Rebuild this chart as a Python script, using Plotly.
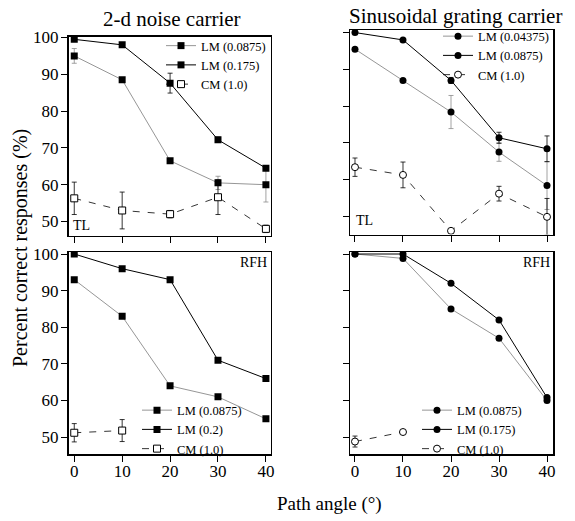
import plotly.graph_objects as go

W, H = 575, 521
FONT = "Liberation Serif"

angles = [0, 10, 20, 30, 40]
angles_cm_rfh = [0, 10]

# 2-d noise carrier, observer TL
noise_tl_lm_low = [95, 88.5, 66.5, 60.5, 60]
noise_tl_lm_low_err = [2, 0, 0, 1.8, 4.7]
noise_tl_lm_high = [99.5, 98, 87.6, 72.2, 64.5]
noise_tl_lm_high_err = [0, 0.5, 2.7, 0.7, 0]
noise_tl_cm = [56.3, 53, 52, 56.6, 48]
noise_tl_cm_err = [4.4, 5, 1, 4.7, 1]

# Sinusoidal grating carrier, observer TL
sin_tl_lm_low = [95.5, 87, 78.4, 67.5, 58.4]
sin_tl_lm_low_err = [0, 0, 4.5, 2.5, 6.5]
sin_tl_lm_high = [100, 98, 87, 71.4, 68.4]
sin_tl_lm_high_err = [0, 0, 0.8, 1.5, 3.5]
sin_tl_cm = [63.4, 61.3, 46.1, 56.2, 49.9]
sin_tl_cm_err = [2.5, 3.5, 0, 2, 5]

# 2-d noise carrier, observer RFH
noise_rfh_lm_low = [93, 83, 64, 61, 55]
noise_rfh_lm_high = [100, 96, 93, 71, 66]
noise_rfh_cm = [51.2, 51.8]
noise_rfh_cm_err = [2.5, 3]

# Sinusoidal grating carrier, observer RFH
sin_rfh_lm_low = [100, 98.8, 85, 77, 60]
sin_rfh_lm_high = [100, 100, 92, 82, 60.8]
sin_rfh_cm = [48.8, 51.4]
sin_rfh_cm_err = [1.5, 0]

names_noise_tl = ["LM (0.0875)", "LM (0.175)", "CM (1.0)"]
names_sin_tl = ["LM (0.04375)", "LM (0.0875)", "CM (1.0)"]
names_noise_rfh = ["LM (0.0875)", "LM (0.2)", "CM (1.0)"]
names_sin_rfh = ["LM (0.0875)", "LM (0.175)", "CM (1.0)"]

xticks = [0, 10, 20, 30, 40]
yticks = [50, 60, 70, 80, 90, 100]

GRAY = "#8a8a8a"
BLACK = "#000000"


def px_x(p):
    return p / W


def px_y(p):
    return 1 - p / H


fig = go.Figure()


def add_panel(ax, xs, low, high, cm, xs_cm, sym, names, legend,
              low_err=None, high_err=None, cm_err=None):
    xa, ya = ("x" + ax, "y" + ax) if ax != "1" else ("x", "y")

    def eb(err, color):
        if err is None:
            return None
        return dict(type="data", array=err, visible=True, color=color,
                    thickness=0.8, width=2.5)

    fig.add_trace(go.Scatter(
        x=xs, y=low, name=names[0], mode="lines+markers",
        line=dict(color=GRAY, width=0.9),
        marker=dict(symbol=sym, size=7, color=BLACK),
        error_y=eb(low_err, GRAY), xaxis=xa, yaxis=ya, legend=legend))
    fig.add_trace(go.Scatter(
        x=xs, y=high, name=names[1], mode="lines+markers",
        line=dict(color=BLACK, width=1),
        marker=dict(symbol=sym, size=7, color=BLACK),
        error_y=eb(high_err, BLACK), xaxis=xa, yaxis=ya, legend=legend))
    fig.add_trace(go.Scatter(
        x=xs_cm, y=cm, name=names[2], mode="lines+markers",
        line=dict(color=BLACK, width=0.8, dash="7px,8px"),
        marker=dict(symbol=sym, size=7, color="white",
                    line=dict(color=BLACK, width=1)),
        error_y=eb(cm_err, BLACK), xaxis=xa, yaxis=ya, legend=legend))


add_panel("1", angles, noise_tl_lm_low, noise_tl_lm_high, noise_tl_cm, angles,
          "square", names_noise_tl, "legend",
          noise_tl_lm_low_err, noise_tl_lm_high_err, noise_tl_cm_err)
add_panel("2", angles, sin_tl_lm_low, sin_tl_lm_high, sin_tl_cm, angles,
          "circle", names_sin_tl, "legend2",
          sin_tl_lm_low_err, sin_tl_lm_high_err, sin_tl_cm_err)
add_panel("3", angles, noise_rfh_lm_low, noise_rfh_lm_high, noise_rfh_cm,
          angles_cm_rfh, "square", names_noise_rfh, "legend3",
          None, None, noise_rfh_cm_err)
add_panel("4", angles, sin_rfh_lm_low, sin_rfh_lm_high, sin_rfh_cm,
          angles_cm_rfh, "circle", names_sin_rfh, "legend4",
          None, None, sin_rfh_cm_err)

panels = {
    "1": dict(xd=(68.5, 270.7), yd=(36.5, 235.5), xr=(-1.2, 41.0), yr=(46.2, 100.27), labels=False),
    "2": dict(xd=(350, 553), yd=(30, 234.5), xr=(-1.04, 41.25), yr=(45.1, 100.7), labels=False),
    "3": dict(xd=(68.5, 270.7), yd=(252, 454), xr=(-1.2, 41.0), yr=(45.4, 100.55), labels=True),
    "4": dict(xd=(350, 553), yd=(252, 454), xr=(-1.04, 41.25), yr=(45.4, 100.55), labels=True),
}

axis_common = dict(showline=True, linecolor=BLACK, linewidth=1.5, mirror=True,
                   ticks="outside", ticklen=6, tickwidth=1, tickcolor=BLACK,
                   showgrid=False, zeroline=False, automargin=False,
                   tickfont=dict(family=FONT, size=17, color=BLACK))

layout_axes = {}
for k, p in panels.items():
    xname = "xaxis" if k == "1" else "xaxis" + k
    yname = "yaxis" if k == "1" else "yaxis" + k
    xid = "x" if k == "1" else "x" + k
    yid = "y" if k == "1" else "y" + k
    layout_axes[xname] = dict(
        domain=[px_x(p["xd"][0]), px_x(p["xd"][1])], range=list(p["xr"]),
        anchor=yid, tickvals=xticks, ticktext=[str(v) for v in xticks],
        showticklabels=p["labels"], ticklabelstandoff=-5, **axis_common)
    layout_axes[yname] = dict(
        domain=[px_y(p["yd"][1]), px_y(p["yd"][0])], range=list(p["yr"]),
        anchor=xid, tickvals=yticks, ticktext=[str(v) for v in yticks],
        showticklabels=k in ("1", "3"), ticklabelstandoff=-1, **axis_common)

leg_common = dict(bgcolor="rgba(0,0,0,0)", borderwidth=0,
                  font=dict(family=FONT, size=12.5, color=BLACK),
                  tracegroupgap=0, itemclick=False, itemdoubleclick=False)

fig.update_layout(
    template="none",
    width=W, height=H, autosize=False,
    margin=dict(l=0, r=0, t=0, b=0, pad=0),
    paper_bgcolor="white", plot_bgcolor="white",
    font=dict(family=FONT, color=BLACK),
    showlegend=True,
    legend=dict(x=px_x(161), y=px_y(31), xanchor="left", yanchor="top", **leg_common),
    legend2=dict(x=px_x(438), y=px_y(21.5), xanchor="left", yanchor="top", **leg_common),
    legend3=dict(x=px_x(137), y=px_y(463.5), xanchor="left", yanchor="bottom", **leg_common),
    legend4=dict(x=px_x(417), y=px_y(463.5), xanchor="left", yanchor="bottom", **leg_common),
    **layout_axes,
)

ann_font = dict(family=FONT, color=BLACK)
annotations = [
    dict(text="2-d noise carrier", x=px_x(172), y=px_y(19),
         font=dict(size=21, **ann_font)),
    dict(text="Sinusoidal grating carrier", x=px_x(455), y=px_y(16),
         font=dict(size=21, **ann_font)),
    dict(text="Percent correct responses (%)", x=px_x(20), y=px_y(248),
         textangle=-90, font=dict(size=20, **ann_font)),
    dict(text="Path angle (°)", x=px_x(329), y=px_y(504),
         font=dict(size=19, **ann_font)),
]
for a in annotations:
    a.update(xref="paper", yref="paper", showarrow=False,
             xanchor="center", yanchor="middle")

annotations += [
    dict(text="TL", x=0.012, y=0.003, xref="x domain", yref="y domain",
         xanchor="left", yanchor="bottom", showarrow=False, font=dict(size=14, **ann_font)),
    dict(text="TL", x=0.02, y=0.02, xref="x2 domain", yref="y2 domain",
         xanchor="left", yanchor="bottom", showarrow=False, font=dict(size=14, **ann_font)),
    dict(text="RFH", x=0.99, y=0.995, xref="x3 domain", yref="y3 domain",
         xanchor="right", yanchor="top", showarrow=False, font=dict(size=14, **ann_font)),
    dict(text="RFH", x=0.995, y=0.995, xref="x4 domain", yref="y4 domain",
         xanchor="right", yanchor="top", showarrow=False, font=dict(size=14, **ann_font)),
]
fig.update_layout(annotations=annotations)

fig.write_html("out.html",
               config={"displayModeBar": False, "staticPlot": True},
               post_script="document.body.style.margin='0px';"
                           "document.body.style.overflow='hidden';")
